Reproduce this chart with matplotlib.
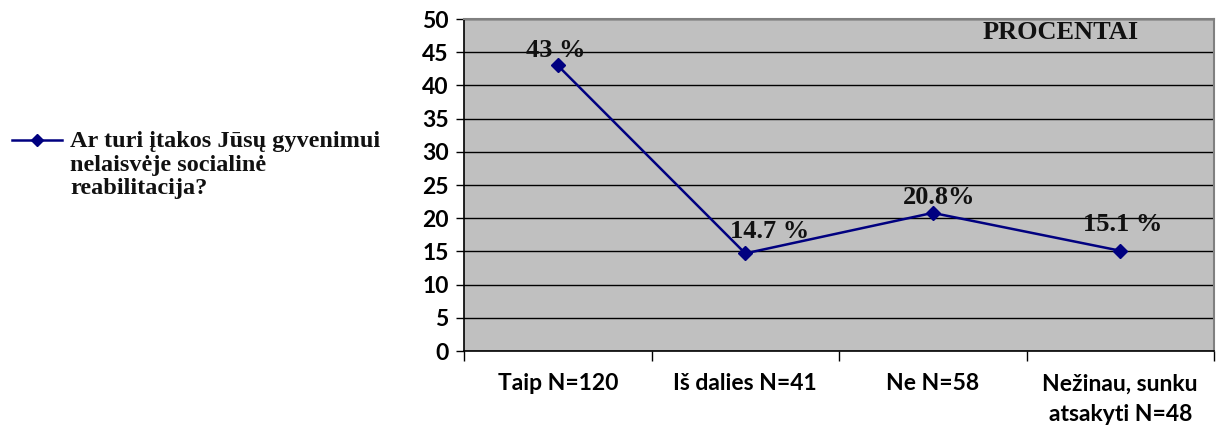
import matplotlib
matplotlib.use("Agg")
import matplotlib.pyplot as plt
from matplotlib.lines import Line2D

categories = ["Taip N=120", "Iš dalies N=41", "Ne N=58", "Nežinau, sunku\natsakyti N=48"]
values = [43, 14.7, 20.8, 15.1]
value_labels = ["43 %", "14.7 %", "20.8%", "15.1 %"]
label_offsets = [(-2, 15), (24, 22), (6, 15), (2, 26)]
series_name = "Ar turi įtakos Jūsų gyvenimui\nnelaisvėje socialinė\nreabilitacija?"
yticks = list(range(0, 55, 5))

W, H = 1217, 428
fig = plt.figure(figsize=(W / 100, H / 100), dpi=100)
ax = fig.add_axes([464 / W, 1 - 351 / H, 750 / W, 332 / H])

ax.set_facecolor("#C0C0C0")
line_color = "#000080"
x = list(range(len(categories)))
ax.plot(x, values, color=line_color, lw=1.8, marker="D", ms=7, zorder=3)

for xi, v, lab, off in zip(x, values, value_labels, label_offsets):
    ax.annotate(lab, (xi, v), xytext=off, textcoords="offset pixels",
                ha="center", va="center", fontsize=19, fontweight="bold",
                family="Liberation Serif", color="#111111", zorder=4)

ax.set_xlim(-0.5, len(categories) - 0.5)
ax.set_ylim(0, 50)
ax.set_yticks(yticks)
ax.set_yticklabels([str(t) for t in yticks], fontsize=16.5, fontweight="bold", family="Lato")
ax.yaxis.grid(True, color="#000000", lw=1.0)
ax.set_axisbelow(True)

ax.set_xticks(x)
ax.set_xticklabels(categories, fontsize=16.5, fontweight="bold", family="Lato", linespacing=1.55)
ax.set_xticks([i - 0.5 for i in range(len(categories) + 1)], minor=True)
ax.tick_params(axis="x", which="major", length=0, pad=16)
ax.tick_params(axis="x", which="minor", length=7, width=1, color="black")
ax.tick_params(axis="y", length=6, width=1, color="black", pad=5)

for side in ["top", "right"]:
    ax.spines[side].set_color("#808080")
    ax.spines[side].set_linewidth(1.5)
for side in ["left", "bottom"]:
    ax.spines[side].set_color("black")
    ax.spines[side].set_linewidth(1.2)

ax.text(0.796, 0.958, "PROCENTAI", transform=ax.transAxes, ha="center", va="center",
        fontsize=19, fontweight="bold", family="Liberation Serif", color="#111111")

# series key on the left
fig.add_artist(Line2D([12 / W, 62 / W], [1 - 140 / H, 1 - 140 / H], color=line_color, lw=1.8,
                      transform=fig.transFigure))
fig.add_artist(Line2D([37 / W], [1 - 140 / H], color=line_color, marker="D", ms=6.5,
                      transform=fig.transFigure))
fig.text(70 / W, 1 - 131 / H, series_name, ha="left", va="top", fontsize=17.5, fontweight="bold",
         family="Liberation Serif", color="#111111", linespacing=1.17)

fig.savefig("out.png", dpi=100)
